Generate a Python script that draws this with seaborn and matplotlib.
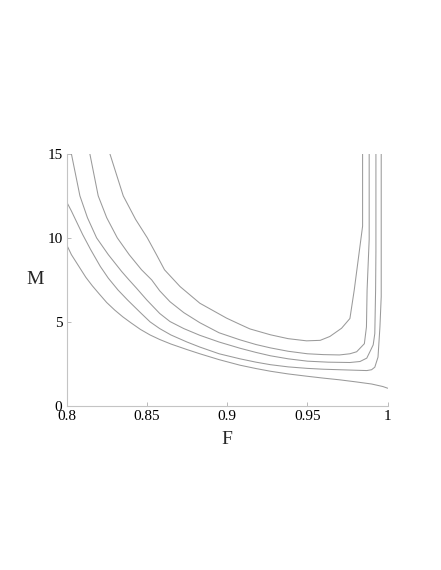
import numpy as np
import pandas as pd
import seaborn as sns
import matplotlib
matplotlib.use("Agg")
import matplotlib.pyplot as plt

sns.set_style("white")
plt.rcParams['font.family'] = ['Liberation Serif', 'DejaVu Serif']

# contour curves, (F, M) pairs, from lowest to highest
F_a = [0.800, 0.803, 0.806, 0.809, 0.812, 0.816, 0.820, 0.825, 0.830, 0.835, 0.840,
       0.846, 0.852, 0.858, 0.865, 0.875, 0.883, 0.895, 0.908, 0.918, 0.927, 0.938,
       0.950, 0.960, 0.970, 0.980, 0.990, 0.997, 1.000]
M_a = [9.6, 9.0, 8.55, 8.1, 7.65, 7.15, 6.7, 6.15, 5.7, 5.3, 4.95,
       4.55, 4.22, 3.95, 3.68, 3.35, 3.1, 2.75, 2.42, 2.22, 2.06, 1.9,
       1.76, 1.65, 1.55, 1.43, 1.3, 1.15, 1.05]

F_b = [0.800, 0.803, 0.806, 0.810, 0.815, 0.821, 0.826, 0.832, 0.838, 0.846, 0.852,
       0.858, 0.865, 0.875, 0.883, 0.895, 0.908, 0.918, 0.927, 0.938, 0.950, 0.960,
       0.970, 0.980, 0.987, 0.990, 0.992, 0.994, 0.9952, 0.996, 0.996]
M_b = [12.15, 11.6, 11.0, 10.2, 9.3, 8.3, 7.6, 6.9, 6.3, 5.55, 5.0,
       4.6, 4.22, 3.8, 3.5, 3.1, 2.8, 2.6, 2.45, 2.32, 2.23, 2.18,
       2.15, 2.12, 2.1, 2.15, 2.3, 2.9, 4.7, 6.5, 15.0]

F_c = [0.803, 0.8083, 0.813, 0.8187, 0.826, 0.8343, 0.8384, 0.8436, 0.850, 0.858,
       0.8644, 0.873, 0.883, 0.895, 0.908, 0.918, 0.927, 0.938, 0.950, 0.963, 0.9765,
       0.9828, 0.987, 0.989, 0.991, 0.992, 0.9925, 0.9927, 0.9927]
M_c = [15.0, 12.5, 11.2, 10.0, 9.0, 8.0, 7.55, 7.0, 6.3, 5.5,
       5.02, 4.6, 4.2, 3.8, 3.43, 3.18, 2.98, 2.8, 2.66, 2.6, 2.58,
       2.64, 2.84, 3.23, 3.63, 4.3, 6.9, 9.2, 15.0]

F_d = [0.8145, 0.8197, 0.825, 0.8316, 0.839, 0.8467, 0.853, 0.8557, 0.858, 0.8644,
       0.873, 0.883, 0.895, 0.908, 0.918, 0.927, 0.938, 0.950, 0.960, 0.970, 0.9765,
       0.9807, 0.9855, 0.9868, 0.9872, 0.9885, 0.9885]
M_d = [15.0, 12.5, 11.2, 10.0, 9.0, 8.1, 7.5, 7.15, 6.85, 6.2,
       5.55, 4.95, 4.35, 3.93, 3.65, 3.45, 3.25, 3.1, 3.05, 3.03, 3.1,
       3.22, 3.7, 4.7, 6.9, 9.9, 15.0]

F_e = [0.827, 0.8353, 0.843, 0.8503, 0.856, 0.861, 0.8707, 0.883, 0.8997, 0.908,
       0.9142, 0.927, 0.938, 0.9495, 0.958, 0.964, 0.9713, 0.9765, 0.9792, 0.9844, 0.9844]
M_e = [15.0, 12.5, 11.1, 10.0, 9.0, 8.1, 7.1, 6.11, 5.22, 4.85,
       4.58, 4.23, 4.0, 3.87, 3.9, 4.13, 4.62, 5.2, 6.9, 10.7, 15.0]

curves = {"a": (F_a, M_a), "b": (F_b, M_b), "c": (F_c, M_c),
          "d": (F_d, M_d), "e": (F_e, M_e)}
df = pd.concat([pd.DataFrame({"F": f, "M": m, "curve": k})
                for k, (f, m) in curves.items()], ignore_index=True)

fig = plt.figure(figsize=(4.41, 5.70), dpi=100)
ax = fig.add_axes([0.151, 0.288, 0.728, 0.442])

sns.lineplot(data=df, x="F", y="M", units="curve", estimator=None, sort=False,
             color="#9a9a9a", linewidth=0.75, ax=ax)

ax.set_xlim(0.8, 1.0)
ax.set_ylim(0, 15)
ax.set_xticks([0.8, 0.85, 0.9, 0.95, 1.0])
ax.set_xticklabels(["0.8", "0.85", "0.9", "0.95", "1"])
ax.set_yticks([0, 5, 10, 15])
ax.set_yticklabels(["0", "5", "10", "15"])
ax.tick_params(direction="in", length=3, width=0.6, color="#b0b0b0",
               labelsize=11, labelcolor="black")
ax.tick_params(axis="x", bottom=True, pad=3)
ax.tick_params(axis="y", left=True, pad=3)

for s in ["top", "right"]:
    ax.spines[s].set_visible(False)
for s in ["left", "bottom"]:
    ax.spines[s].set_color("#c4c4c4")
    ax.spines[s].set_linewidth(0.8)

ax.set_xlabel("F", fontsize=14, labelpad=6)
ax.set_ylabel("M", fontsize=14, rotation=0, labelpad=9, va="center")

fig.savefig("out.png", dpi=100)
